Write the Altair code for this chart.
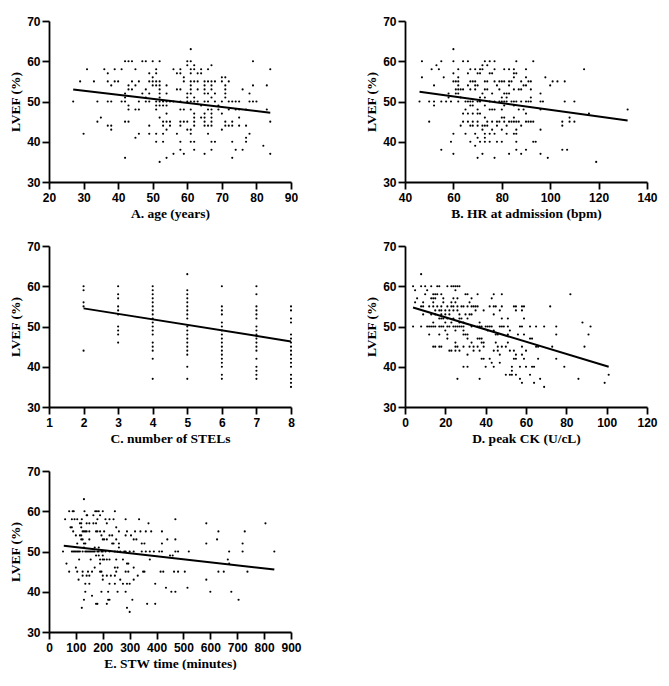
import altair as alt
import pandas as pd

A = {63:[61],60:[42,43,44,47,48,50,52,60,61,79],59:[60,62,67],
58:[31,36,39,41,45,51,56,58,61,62,64,66,84],57:[37,49,51,57,58,61,63,64],56:[50,59,70,71],
55:[29,33,37,39,40,44,46,49,50,51,52,59,61,62,63,65,66,67,68,70,72],
54:[38,43,45,50,51,52,54,61,65,67,71,79,83],53:[43,44,48,52,57,58,61,63,65,67,71,76],
52:[42,47,49,52,54,60,61,65,66,68,71,78],51:[42,48,52,60,62,67,71],
50:[27,34,37,38,41,42,46,48,49,51,52,53,54,55,56,58,60,61,62,63,65,66,68,70,72,73,74,75,78,79,80],
49:[43,51,52,53,54,64,69],48:[43,45,46,51,58,59,61,66,67,69,72,74,75,77,83],47:[54,62,65,67,70],
46:[35,52,62,64,65,67,75],45:[34,42,43,53,54,55,58,59,60,62,65,67,71,73,84],
44:[37,38,49,53,55,58,62,65,66,67,71,72,73,75,77],43:[38,54,60,61,70],42:[30,46,49,51,53,57,61,66,78],
41:[45,77],40:[51,53,58,61,62,67,68,73,77],39:[82],38:[58,62,67,74,76],37:[56,59,65,84],36:[42,54,73],35:[52]}

B = {63:[60],60:[47,55,60,64,66,73,75,77,86,93],59:[53,72,74],
58:[51,54,62,67,69,71,72,77,81,83,85,90,114],57:[60,66,70,71,75,76,85,86],56:[47,56,62,85,90,98],
55:[60,61,62,67,68,69,73,74,77,79,80,81,83,84,88,91,92,101,103,106],
54:[52,62,66,69,70,78,83,89,90,100],53:[61,62,63,64,67,69,73,74,79,85,87,88,92],
52:[58,61,62,72,76,81,82,83,96],51:[58,63,71,73,80,82,92],
50:[46,50,52,55,57,59,62,65,66,67,68,70,71,75,77,79,80,81,82,84,85,86,88,90,91,92,96,97,106,110],
49:[52,67,68,73,81,85],48:[65,70,75,76,77,80,87,89,96,132],47:[64,66,68,70,71,90,116],46:[73,80,81,85,108],
45:[50,64,66,68,70,74,76,78,79,81,83,84,85,86,87,90,91,92,93,105,108,110],
44:[63,67,68,70,72,73,74,78,82,88,105],43:[72,76,80,86,96],42:[60,65,69,73,75,77,82,85,86],41:[70,73],
40:[59,67,71,73,75,78,80,86,93,94],39:[69],38:[55,86,90,105,107],37:[60,72,83,88,96],36:[70,77,99],35:[119]}

C = {2:[60,59,56,55,44],3:[60,58,57,55,54,53,50,49,48,46],
4:[60,59,58,57,56,55,54,53,52,51,50,49,48,46,45,44,42,37],
5:[63,59,58,57,56,55,54,53,52,50,49,48,47,46,45,44,43,40,37],
6:[60,55,54,53,51,50,49,48,47,46,45,44,43,42,41,40,38,37],
7:[60,58,55,54,53,52,50,49,48,47,46,45,44,42,40,39,38,37],
8:[55,54,52,51,48,47,46,45,44,43,42,41,40,38,37,36,35]}

D = {63:[8],60:[4,8,10,13,16,17,21,23,24,25,26,27],59:[5,11,25],58:[10,14,15,16,18,30,31,36,44,48,82],
57:[6,13,14,15,19,24,26,33,43],56:[5,9,14,19,23,25,32],
55:[8,9,12,14,16,18,21,23,24,26,28,29,31,33,34,35,36,42,44,45,48,54,55,58,59,72],
54:[15,17,18,20,22,24,26,35,39,47,55,58],53:[9,13,15,18,20,22,27,30,32,33,44],
52:[17,18,19,21,24,27,28,31,48,51,59],51:[14,20,23,27,29,37,88],
50:[4,8,11,12,13,14,15,17,18,19,21,22,24,25,26,27,28,29,33,36,37,38,40,41,42,43,47,48,49,51,57,58,62,65,69,75,92],
49:[20,25,29,41,44,52],48:[12,17,21,29,30,31,45,46,51,56,59,75,91],47:[21,31,36,37,38,62,63],46:[25,33,38,39,45,51],
45:[14,15,17,18,25,26,29,32,34,36,39,46,48,50,58,65,66,73,89],44:[22,23,25,27,34,37,44,46,52,54,60],
43:[31,47,55,58],42:[38,39,42,54,55,59,66,75],41:[43,47],40:[29,31,40,44,53,57,60,63,64,79],39:[53],
38:[50,52,53,55,62,101],37:[26,37,57,67,86],36:[58,64,99],35:[69]}

E = {63:[130],60:[75,88,92,132,172,178,185,200,245],59:[140,142,165,190],
58:[60,85,95,105,122,180,210,225,240,285,335,470],57:[115,120,140,150,165,175,215,370,585,805],56:[80,85,120,250],
55:[90,125,130,135,140,150,175,180,190,205,260,290,320,340,360,380,420,630,728],
54:[100,115,120,195,225,235,285,305],53:[120,125,150,200,205,215,250,315,325,440,470,625],
52:[105,130,135,235,240,260,345,355,420,585,720],51:[130,170,185,260],
50:[52,85,90,95,100,105,110,115,125,135,140,145,150,155,160,165,170,180,185,195,200,210,225,245,255,265,280,285,300,315,345,360,375,390,410,420,470,480,520,670,720,838],
49:[175,185,200,450,460],48:[112,155,190,200,205,215,225,250,275,375,665],47:[65,190,290,295,670],46:[100,170,245,255,315],
45:[75,105,125,145,160,190,195,250,285,295,350,355,415,425,465,480,505,630,650,738],44:[125,140,150,200,215,230,245,330],
43:[110,200,265,315,585],42:[135,150,225,245,275,290,300,395],41:[435,515],40:[135,195,220,255,285,455,470,600,678],
39:[160],38:[130,220,225,310,705],37:[175,180,215,365,395],36:[122,290],35:[300]}

FITS = {"A":([27,84],[53.0,47.2]),"B":([46,132],[52.4,45.3]),"C":([2,8],[54.5,46.3]),
        "D":([4,101],[54.7,40.0]),"E":([55,838],[51.4,45.5])}

def by_y(d): return pd.DataFrame([{"x":x,"y":y} for y,xs in d.items() for x in xs])
def by_x(d): return pd.DataFrame([{"x":x,"y":y} for x,ys in d.items() for y in ys])

SANS="Liberation Sans"; SERIF="Liberation Serif"

def panel(df, fit, title, dom, ticks):
    xs = alt.Scale(domain=dom, nice=False, zero=False)
    ys = alt.Scale(domain=[30,70], nice=False, zero=False)
    xa = alt.Axis(values=ticks, title=title, format="d", grid=False, domainWidth=1.8, domainColor="black",
                  tickWidth=1.8, tickColor="black", tickSize=7, labelFont=SANS, labelFontWeight="bold",
                  labelFontSize=12, labelColor="black", titleFont=SERIF, titleFontWeight="bold",
                  titleFontSize=13.5, titleColor="black", titlePadding=3, labelPadding=3, labelFlush=False, labelOverlap=False)
    ya = alt.Axis(values=[30,40,50,60,70], title="LVEF (%)", grid=False, domainWidth=1.8, domainColor="black",
                  tickWidth=1.8, tickColor="black", tickSize=7, labelFont=SANS, labelFontWeight="bold",
                  labelFontSize=12, labelColor="black", titleFont=SERIF, titleFontWeight="bold",
                  titleFontSize=13.5, titleColor="black", titlePadding=4, labelPadding=2, minExtent=20)
    pts = alt.Chart(df).mark_circle(size=4.5, color="black", opacity=1).encode(
        x=alt.X("x:Q", scale=xs, axis=xa), y=alt.Y("y:Q", scale=ys, axis=ya))
    ln = alt.Chart(pd.DataFrame({"x":fit[0],"y":fit[1]})).mark_line(color="black", strokeWidth=2).encode(
        x=alt.X("x:Q", scale=xs, axis=xa), y=alt.Y("y:Q", scale=ys, axis=ya))
    return (pts+ln).properties(width=242, height=161)

pa = panel(by_y(A),FITS["A"],"A. age (years)",[20,90],list(range(20,91,10)))
pb = panel(by_y(B),FITS["B"],"B. HR at admission (bpm)",[40,140],list(range(40,141,20)))
pc = panel(by_x(C),FITS["C"],"C. number of STELs",[1,8],list(range(1,9)))
pd_ = panel(by_y(D),FITS["D"],"D. peak CK (U/cL)",[0,120],list(range(0,121,20)))
pe = panel(by_y(E),FITS["E"],"E. STW time (minutes)",[0,900],list(range(0,901,100)))

chart = alt.concat(pa,pb,pc,pd_,pe,columns=2,spacing=alt.RowColnumber(row=64,column=114),bounds="flush").properties(
    padding={"left":0,"top":7,"right":0,"bottom":0}, background="white"
).configure_view(stroke=None)
chart.save("out.html", embed_options={"renderer":"svg","actions":False})
